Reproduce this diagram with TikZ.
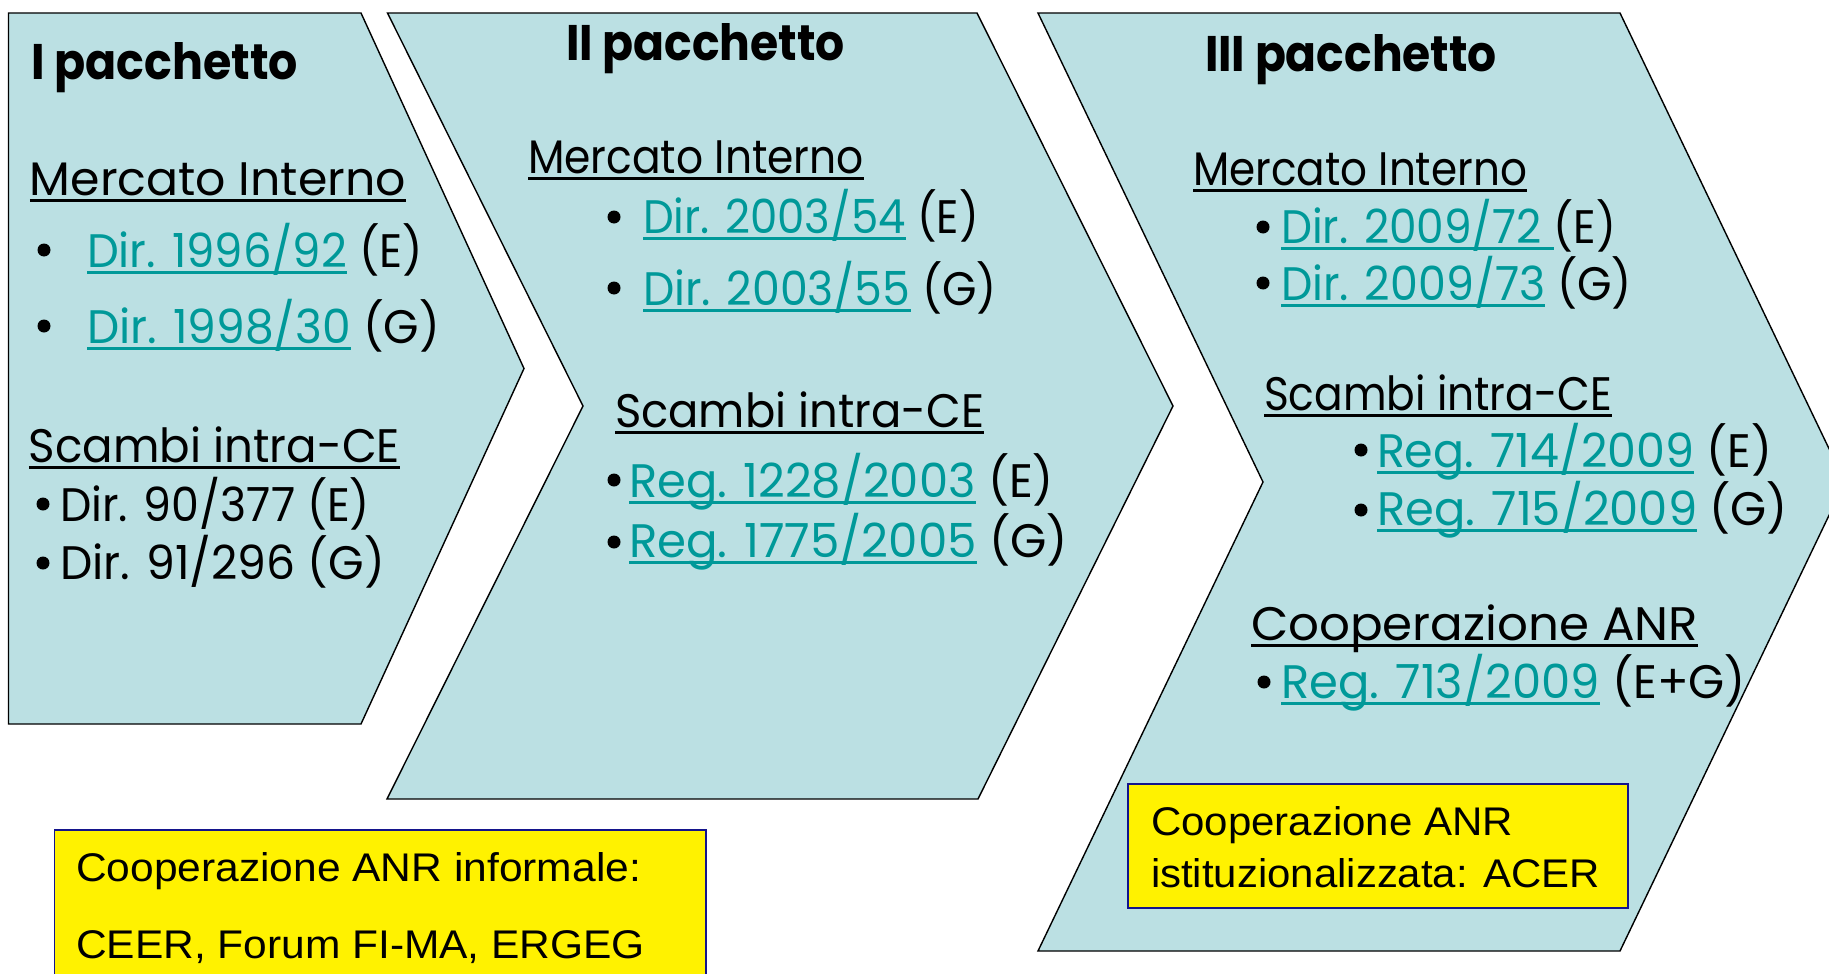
\documentclass[tikz,border=0pt]{standalone}
\usepackage{fontspec}
\usepackage{graphicx}
\newfontfamily\gfont{Poppins}
\newfontfamily\afont{Liberation Sans}
\definecolor{shapefill}{RGB}{187,224,227}
\definecolor{linkc}{RGB}{0,153,153}
\definecolor{boxline}{RGB}{20,20,140}
\newsavebox\ulbox
\newcommand\myul[1]{\sbox\ulbox{#1}\rlap{\rule[-7pt]{\wd\ulbox}{3pt}}\usebox\ulbox}
\newcommand\lk[1]{{\color{linkc}\myul{#1}}}
\newcommand\fitw[2]{\resizebox{#1pt}{\height}{#2}}
\tikzset{
  chev/.style={fill=shapefill, draw=black, line width=1.4pt, line join=miter},
  ybox/.style={fill=yellow, draw=boxline, line width=1.8pt},
  txt/.style={anchor=base west, inner sep=0pt, outer sep=0pt},
  head/.style={font=\gfont\bfseries\fontsize{50}{54}\selectfont},
  body/.style={font=\gfont\fontsize{47}{50}\selectfont},
  note/.style={font=\afont\fontsize{40}{44}\selectfont},
  bul/.style={fill=black, draw=none}
}
\begin{document}
\begin{tikzpicture}[x=1pt,y=-1pt]
\useasboundingbox (0,0) rectangle (1829,974);
\clip (0,0) rectangle (1829,974);
% chevrons
\draw[chev] (8.5,13) -- (361,13) -- (524,368.5) -- (361,724) -- (8.5,724) -- cycle;
\draw[chev] (387.5,13) -- (977,13) -- (1173,406) -- (978,799) -- (387,799) -- (583,406) -- cycle;
\draw[chev] (1038,13) -- (1620,13) -- (1845,482) -- (1620,951) -- (1038,951) -- (1263,482) -- cycle;
% yellow boxes
\draw[ybox] (54.5,830) rectangle (706,1000);
\draw[ybox] (1128,784) rectangle (1628,908);
% shape 1
\node[txt,head] (h1) at (31,80) {\fitw{267}{I pacchetto}};
\node[txt,body] (m1) at (30,195) {\fitw{376}{\myul{Mercato Interno}}};
\fill[bul] (44,250) circle (6.5);
\node[txt,body] (d1) at (87,267) {\fitw{336}{\lk{Dir. 1996/92} (E)}};
\fill[bul] (44,326) circle (6.5);
\node[txt,body] (d2) at (87,343) {\fitw{353}{\lk{Dir. 1998/30} (G)}};
\node[txt,body] (s1) at (29,462) {\fitw{371}{\myul{Scambi intra-CE}}};
\fill[bul] (43,504) circle (6.5);
\node[txt,body] (d3) at (60,521) {\fitw{310}{Dir. 90/377 (E)}};
\fill[bul] (43,563) circle (6.5);
\node[txt,body] (d4) at (60,579) {\fitw{325}{Dir. 91/296 (G)}};
% shape 2
\node[txt,head] (h2) at (566,60) {\fitw{279}{II pacchetto}};
\node[txt,body] (m2) at (528,173) {\fitw{336}{\myul{Mercato Interno}}};
\fill[bul] (614,217) circle (6.5);
\node[txt,body] (d5) at (643,233) {\fitw{336}{\lk{Dir. 2003/54} (E)}};
\fill[bul] (614,288) circle (6.5);
\node[txt,body] (d6) at (643,305) {\fitw{354}{\lk{Dir. 2003/55} (G)}};
\node[txt,body] (s2) at (615,427) {\fitw{369}{\myul{Scambi intra-CE}}};
\fill[bul] (614,480) circle (6.5);
\node[txt,body] (r1) at (629,497) {\fitw{425}{\lk{Reg. 1228/2003} (E)}};
\fill[bul] (614,542) circle (6.5);
\node[txt,body] (r2) at (629,557) {\fitw{439}{\lk{Reg. 1775/2005} (G)}};
% shape 3
\node[txt,head] (h3) at (1205,71) {\fitw{292}{III pacchetto}};
\node[txt,body] (m3) at (1193,185) {\fitw{334}{\myul{Mercato Interno}}};
\fill[bul] (1263,227) circle (6.5);
\node[txt,body] (d7) at (1281,243) {\fitw{335}{\lk{Dir. 2009/72~}(E)}};
\fill[bul] (1263,283) circle (6.5);
\node[txt,body] (d8) at (1281,300) {\fitw{351}{\lk{Dir. 2009/73} (G)}};
\node[txt,body] (s3) at (1264,410) {\fitw{348}{\myul{Scambi intra-CE}}};
\fill[bul] (1361,450) circle (6.5);
\node[txt,body] (r3) at (1377,467) {\fitw{395}{\lk{Reg. 714/2009} (E)}};
\fill[bul] (1361,510) circle (6.5);
\node[txt,body] (r4) at (1377,525) {\fitw{411}{\lk{Reg. 715/2009} (G)}};
\node[txt,body] (c3) at (1251,640) {\fitw{447}{\myul{Cooperazione ANR}}};
\fill[bul] (1264,682) circle (6.5);
\node[txt,body] (r5) at (1281,698) {\fitw{465}{\lk{Reg. 713/2009} (E+G)}};
% yellow box texts
\node[txt,note] (y1) at (76,881) {\fitw{565}{Cooperazione ANR informale:}};
\node[txt,note] (y2) at (76,958) {\fitw{569}{CEER, Forum FI-MA, ERGEG}};
\node[txt,note] (y3) at (1151,835) {\fitw{362}{Cooperazione ANR}};
\node[txt,note] (y4) at (1151,887) {\fitw{449}{istituzionalizzata: ACER}};
\end{tikzpicture}
\end{document}
